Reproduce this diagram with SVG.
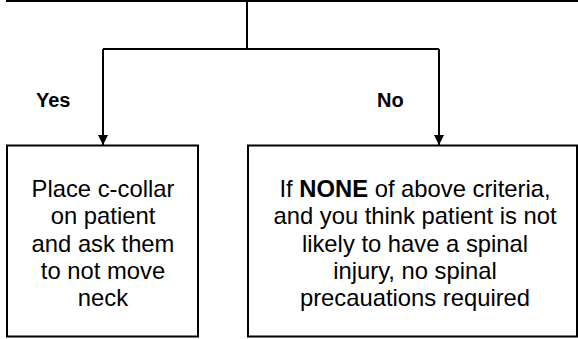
<svg xmlns="http://www.w3.org/2000/svg" width="578" height="339" viewBox="0 0 578 339">
  <style>
    .box { fill: #ffffff; stroke: #000000; stroke-width: 2; }
    .conn { fill: none; stroke: #000000; stroke-width: 2; }
    .body { font-family: "Liberation Sans", Arial, sans-serif; font-size: 23.8px; fill: #000000; text-anchor: middle; }
    .lbl { font-family: "Liberation Sans", Arial, sans-serif; font-size: 20px; font-weight: bold; fill: #000000; }
  </style>
  <defs>
    <marker id="arrow" markerWidth="10" markerHeight="10" refX="10" refY="5" orient="auto" markerUnits="userSpaceOnUse">
      <path d="M0,0 L10,5 L0,10 Z" fill="#000000"/>
    </marker>
  </defs>
  <rect width="578" height="339" fill="#ffffff"/>
  <g id="top-node">
    <path class="conn" d="M7,-5 V1 H582"/>
  </g>
  <g id="connectors">
    <path class="conn" d="M247,1 V49"/>
    <path class="conn" d="M103,49 H439"/>
    <path class="conn" d="M103,49 V145" marker-end="url(#arrow)"/>
    <path class="conn" d="M439,49 V145" marker-end="url(#arrow)"/>
    <text class="lbl" x="36" y="107">Yes</text>
    <text class="lbl" x="377" y="107">No</text>
  </g>
  <g id="yes-node">
    <rect class="box" x="7" y="145.5" width="191" height="191"/>
    <text class="body" x="103" y="197">Place c-collar</text>
    <text class="body" x="103" y="224">on patient</text>
    <text class="body" x="103" y="252">and ask them</text>
    <text class="body" x="103" y="279">to not move</text>
    <text class="body" x="103" y="306">neck</text>
  </g>
  <g id="no-node">
    <rect class="box" x="248" y="145.5" width="329" height="191"/>
    <text class="body" x="415" y="197">If <tspan font-weight="bold">NONE</tspan> of above criteria,</text>
    <text class="body" x="415" y="224">and you think patient is not</text>
    <text class="body" x="415" y="252">likely to have a spinal</text>
    <text class="body" x="415" y="279">injury, no spinal</text>
    <text class="body" x="415" y="306">precauations required</text>
  </g>
</svg>
